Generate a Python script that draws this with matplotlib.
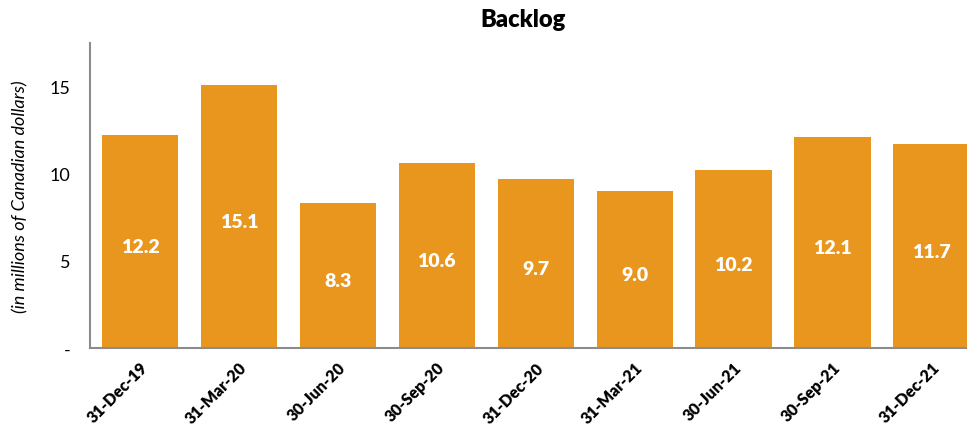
import matplotlib
matplotlib.use("Agg")
from matplotlib import pyplot as plt

# Backlog by quarter end (millions CAD)
quarters = ["31-Dec-19", "31-Mar-20", "30-Jun-20", "30-Sep-20", "31-Dec-20",
            "31-Mar-21", "30-Jun-21", "30-Sep-21", "31-Dec-21"]
backlog = [12.2, 15.1, 8.3, 10.6, 9.7, 9.0, 10.2, 12.1, 11.7]
ytick_vals = [0, 5, 10, 15]
ytick_labels = ["-", "5", "10", "15"]

plt.rcParams['font.family'] = ['Lato', 'DejaVu Sans']

fig = plt.figure(figsize=(9.67, 4.27), dpi=100)
ax = fig.add_axes([90 / 967, (427 - 349) / 427, (967 - 90) / 967, (349 - 44) / 427])

x = range(len(quarters))
bars = ax.bar(x, backlog, width=0.77, color="#E8961E")

for b, v in zip(bars, backlog):
    ax.text(b.get_x() + b.get_width() / 2, v / 2 - 0.3, f"{v:.1f}",
            ha="center", va="center", color="white", fontsize=14, fontweight="heavy")

ax.set_xlim(-0.505, 8.36)
ax.set_ylim(0, 17.5)
ax.set_yticks(ytick_vals)
ax.set_yticklabels(ytick_labels, fontsize=13)
ax.set_xticks(list(x))
ax.set_xticklabels(quarters, rotation=45, ha="right", rotation_mode="anchor",
                   fontsize=11.5, fontweight="heavy")
ax.tick_params(length=0)
ax.tick_params(axis="y", pad=14)
ax.tick_params(axis="x", pad=8)

for s in ["top", "right"]:
    ax.spines[s].set_visible(False)
for s in ["left", "bottom"]:
    ax.spines[s].set_color("#8c8c8c")
    ax.spines[s].set_linewidth(1.5)

ax.set_ylabel("(in millions of Canadian dollars)", fontsize=13, style="italic")
ax.yaxis.set_label_coords(-0.07, 0.5)

fig.text(523 / 967, 1 - 20 / 427, "Backlog", ha="center", va="center",
         fontsize=17, fontweight="heavy")

fig.savefig("out.png", dpi=100)
